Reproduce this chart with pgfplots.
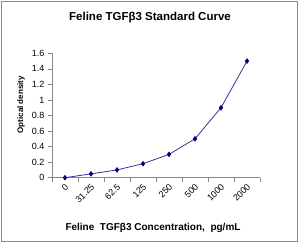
\documentclass[border=0pt]{standalone}
\usepackage{pgfplots}
\pgfplotsset{compat=1.18}
\usepackage{fontspec}
\setmainfont{Liberation Sans}
\definecolor{linec}{HTML}{333399}
\definecolor{markc}{HTML}{000080}
\definecolor{axc}{HTML}{868686}
\definecolor{framec}{HTML}{8C8C8C}
\begin{document}
\begin{tikzpicture}
\useasboundingbox (-52pt,-69.3pt) rectangle (248pt,177.7pt);
\draw[color=framec, line width=0.9pt] (-50.5pt,-63.3pt) rectangle (245pt,176.2pt);
\begin{axis}[
  at={(0pt,0pt)}, anchor=south west,
  scale only axis, width=208pt, height=124.4pt,
  xmin=-0.5, xmax=7.5, ymin=0, ymax=1.6,
  axis lines*=left,
  axis line style={axc, line width=0.6pt},
  xtick={0,...,7},
  xticklabels={0,31.25,62.5,125,250,500,1000,2000},
  major x tick style={draw=none},
  minor xtick={-0.5,0.5,...,7.5},
  minor x tick style={axc, line width=0.6pt},
  minor tick length=4pt,
  major tick length=4pt,
  xtick align=outside, ytick align=outside,
  ytick={0,0.2,0.4,0.6,0.8,1,1.2,1.4,1.6},
  yticklabels={0,0.2,0.4,0.6,0.8,1,1.2,1.4,1.6},
  y tick style={axc, line width=0.6pt},
  tick label style={font=\fontsize{9}{10}\selectfont},
  xticklabel style={rotate=45, anchor=east, yshift=-4pt, xshift=2pt},
  clip=false,
]
\addplot[linec, line width=0.8pt, mark=diamond*, mark size=2.2pt,
  mark options={markc, fill=markc}]
  coordinates {(0,0) (1,0.05) (2,0.1) (3,0.18) (4,0.3) (5,0.5) (6,0.9) (7,1.5)};
\end{axis}
\node[font=\bfseries\fontsize{11.5}{13}\selectfont] at (98pt,160pt) {Feline TGFβ3 Standard Curve};
\node[rotate=90, font=\bfseries\fontsize{8}{9}\selectfont] at (-31pt,73pt) {Optical density};
\node[font=\bfseries\fontsize{10}{12}\selectfont] at (101pt,-50.3pt) {Feline\ \ TGFβ3 Concentration,\ \ pg/mL};
\end{tikzpicture}
\end{document}
